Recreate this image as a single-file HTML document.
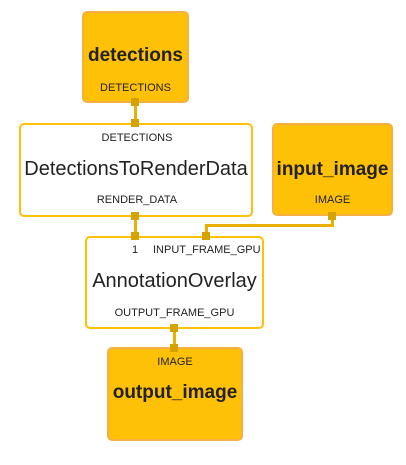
<!DOCTYPE html><html><head><style>
body{margin:0;width:406px;height:465px;background:#fff;font-family:"Liberation Sans",sans-serif;position:relative;overflow:hidden}
.b{position:absolute;box-sizing:border-box;border-radius:5px;text-align:center;color:#222}
.o{background:#ffc107;border:2px solid #f5b041}
.w{background:#fff;border:2px solid #ffc107}
.t{position:absolute;left:0;right:0;font-weight:bold;font-size:19px}
.s{position:absolute;font-size:11px}
.p{position:absolute;width:8px;height:8px;background:#d4a300}
.l{position:absolute;background:#e8b000}
</style></head><body>
<div class="l" style="left:134px;top:102px;width:3px;height:22px"></div>
<div class="l" style="left:134px;top:215px;width:3px;height:22px"></div>
<div class="l" style="left:331px;top:215px;width:3px;height:12px"></div>
<div class="l" style="left:205px;top:224px;width:129px;height:3px"></div>
<div class="l" style="left:205px;top:224px;width:3px;height:13px"></div>
<div class="l" style="left:173px;top:328px;width:3px;height:20px"></div>

<div class="b o" style="left:82px;top:11px;width:107px;height:92px"><div class="t" style="top:32px">detections</div><div class="s" style="left:0;right:0;top:69px">DETECTIONS</div></div>
<div class="b w" style="left:19px;top:123px;width:234px;height:94px"><div class="s" style="left:0;width:232px;top:7px">DETECTIONS</div><div class="t" style="top:33px;font-weight:500;font-size:20px;color:#222">DetectionsToRenderData</div><div class="s" style="left:0;width:232px;top:69px">RENDER_DATA</div></div>
<div class="b o" style="left:272px;top:123px;width:121px;height:93px"><div class="t" style="top:34px">input_image</div><div class="s" style="left:0;right:0;top:69px">IMAGE</div></div>
<div class="b w" style="left:85px;top:236px;width:179px;height:93px"><div class="s" style="left:45px;top:6px">1</div><div class="s" style="left:66px;top:6px">INPUT_FRAME_GPU</div><div class="t" style="top:32px;font-weight:500;font-size:20px;color:#222">AnnotationOverlay</div><div class="s" style="left:0;right:0;top:69px">OUTPUT_FRAME_GPU</div></div>
<div class="b o" style="left:107px;top:347px;width:136px;height:94px"><div class="s" style="left:0;right:0;top:7px">IMAGE</div><div class="t" style="top:33px">output_image</div></div>

<div class="p" style="left:131px;top:98px"></div>
<div class="p" style="left:131px;top:119px"></div>
<div class="p" style="left:131px;top:212px"></div>
<div class="p" style="left:131px;top:232px"></div>
<div class="p" style="left:202px;top:232px"></div>
<div class="p" style="left:328px;top:212px"></div>
<div class="p" style="left:170px;top:324px"></div>
<div class="p" style="left:170px;top:344px"></div>
</body></html>
